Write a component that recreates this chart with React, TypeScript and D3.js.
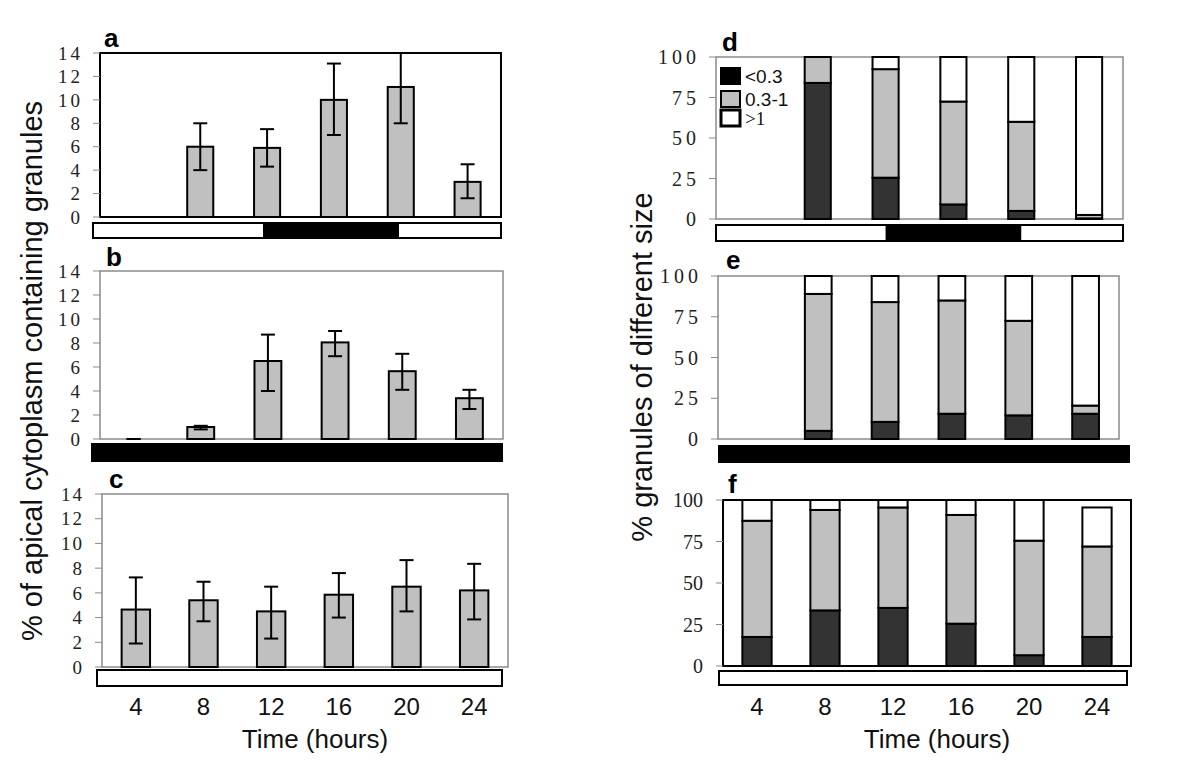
import React from 'react';
import * as d3 from 'd3';

// ---------- data ----------
const hours = ['4', '8', '12', '16', '20', '24'];

// panels a-c: % of apical cytoplasm containing granules (mean, error low, error high)
const meanA = [null, 6.0, 5.9, 10.0, 11.1, 3.0];
const lowA = [null, 4.0, 4.3, 7.0, 8.0, 1.6];
const highA = [null, 8.0, 7.5, 13.1, 15.0, 4.5];

const meanB = [0, 1.0, 6.5, 8.05, 5.65, 3.4];
const lowB = [0, 0.8, 4.0, 6.9, 4.1, 2.5];
const highB = [0, 1.1, 8.7, 9.0, 7.1, 4.1];

const meanC = [4.65, 5.4, 4.5, 5.85, 6.5, 6.2];
const lowC = [1.9, 3.7, 2.3, 4.0, 4.5, 3.85];
const highC = [7.25, 6.9, 6.5, 7.6, 8.65, 8.35];

// panels d-f: % granules of different size (<0.3, 0.3-1, >1)
const smallD = [null, 84, 25.5, 9, 5, 0.4];
const midD = [null, 16, 67, 63.5, 55, 2.1];
const largeD = [null, 0, 7.5, 27.5, 40, 97.5];

const smallE = [null, 5, 10.5, 15.5, 14.5, 15.5];
const midE = [null, 84, 73.5, 69.5, 58, 5];
const largeE = [null, 11, 16, 15, 27.5, 79.5];

const smallF = [17.5, 33.5, 35, 25.5, 6.5, 17.5];
const midF = [70, 60.5, 60.5, 65.5, 69, 54.5];
const largeF = [12.5, 6, 4.5, 9, 24.5, 23.5];

const sizeClasses = ['<0.3', '0.3-1', '>1'];
const percentTicks = [0, 2, 4, 6, 8, 10, 12, 14];
const sizeTicks = [0, 25, 50, 75, 100];

// light/dark regime strip (hours)
const stripHours = [2, 26];
const darkPeriod = [12, 20];

// ---------- styling ----------
const GRAY = '#c0c0c0';
const DARK = '#333333';
const FRAME_GRAY = '#8a8a8a';
const SERIF = "Liberation Serif, Times New Roman, Times, DejaVu Serif, serif";
const SANS = "Liberation Sans, Arial, sans-serif";

type Box = { x0: number; x1: number; y0: number; y1: number };

function Strip({ b, mode }: { b: Box; mode: 'light' | 'dark' | 'ld' }) {
  const s = d3.scaleLinear().domain(stripHours).range([b.x0, b.x1]);
  return (
    <g>
      <rect x={b.x0} y={b.y0} width={b.x1 - b.x0} height={b.y1 - b.y0}
        fill={mode === 'dark' ? '#000' : '#fff'} stroke="#000" strokeWidth={2} />
      {mode === 'ld' && (
        <rect x={s(darkPeriod[0])} y={b.y0} width={s(darkPeriod[1]) - s(darkPeriod[0])}
          height={b.y1 - b.y0} fill="#000" />
      )}
    </g>
  );
}

function YTicks({ b, y, ticks, spacing, size }: any) {
  return (
    <g>
      {ticks.map((t: number) => (
        <g key={t}>
          <line x1={b.x0 - 7} x2={b.x0} y1={y(t)} y2={y(t)} stroke={FRAME_GRAY} strokeWidth={1} />
          <text x={b.x0 - 20 + spacing} y={y(t)} dy="0.35em" textAnchor="end"
            style={{ fontFamily: SERIF, fontSize: size, letterSpacing: spacing }} fill="#222">{t}</text>
        </g>
      ))}
    </g>
  );
}

function BarPanel({ b, mean, low, high, pad, frameColor, frameWidth, spacing }: any) {
  const x = d3.scaleBand().domain(hours).range([b.x0, b.x1]).paddingInner(pad).paddingOuter(pad / 2);
  const y = d3.scaleLinear().domain([0, 14]).range([b.y1, b.y0]).clamp(true);
  const bw = x.bandwidth();
  return (
    <g>
      <rect x={b.x0} y={b.y0} width={b.x1 - b.x0} height={b.y1 - b.y0} fill="#fff"
        stroke={frameColor} strokeWidth={frameWidth} />
      <YTicks b={b} y={y} ticks={percentTicks} spacing={spacing} size={19} />
      {hours.map((h, i) => {
        const m = mean[i];
        if (m === null) return null;
        const cx = (x(h) as number) + bw / 2;
        return (
          <g key={h}>
            {m > 0 && (
              <rect x={x(h)} y={y(m)} width={bw} height={y(0) - y(m)} fill={GRAY}
                stroke="#000" strokeWidth={2} />
            )}
            <line x1={cx} x2={cx} y1={y(low[i])} y2={y(high[i])} stroke="#000" strokeWidth={2} />
            <line x1={cx - 7} x2={cx + 7} y1={y(low[i])} y2={y(low[i])} stroke="#000" strokeWidth={2} />
            {high[i] <= 14 && (
              <line x1={cx - 7} x2={cx + 7} y1={y(high[i])} y2={y(high[i])} stroke="#000" strokeWidth={2} />
            )}
          </g>
        );
      })}
    </g>
  );
}

function StackPanel({ b, small, mid, large, pad, frameColor, frameWidth, spacing, tickSize }: any) {
  const x = d3.scaleBand().domain(hours).range([b.x0, b.x1]).paddingInner(pad).paddingOuter(pad / 2);
  const y = d3.scaleLinear().domain([0, 100]).range([b.y1, b.y0]);
  const rows = hours
    .map((h, i) => ({ h, small: small[i], mid: mid[i], large: large[i] }))
    .filter((r) => r.small !== null);
  const series = d3.stack<any>().keys(['small', 'mid', 'large'])(rows);
  const fills = [DARK, GRAY, '#fff'];
  return (
    <g>
      <rect x={b.x0} y={b.y0} width={b.x1 - b.x0} height={b.y1 - b.y0} fill="#fff"
        stroke={frameColor} strokeWidth={frameWidth} />
      <YTicks b={b} y={y} ticks={sizeTicks} spacing={spacing} size={tickSize} />
      {series.map((s, si) => (
        <g key={si}>
          {s.map((d: any) => (
            d[1] - d[0] > 0 ? (
              <rect key={d.data.h} x={x(d.data.h)} y={y(d[1])} width={x.bandwidth()}
                height={y(d[0]) - y(d[1])} fill={fills[si]} stroke="#000" strokeWidth={2} />
            ) : null
          ))}
        </g>
      ))}
    </g>
  );
}

function XLabels({ b }: { b: Box }) {
  const x = d3.scaleBand().domain(hours).range([b.x0, b.x1]);
  return (
    <g>
      {hours.map((h) => (
        <text key={h} x={(x(h) as number) + x.bandwidth() / 2} y={715} textAnchor="middle"
          style={{ fontFamily: SANS, fontSize: 24 }} fill="#111">{h}</text>
      ))}
      <text x={(b.x0 + b.x1) / 2 + 10} y={748} textAnchor="middle"
        style={{ fontFamily: SANS, fontSize: 26 }} fill="#111">Time (hours)</text>
    </g>
  );
}

function Letter({ x, y, t }: { x: number; y: number; t: string }) {
  return (
    <text x={x} y={y} style={{ fontFamily: SANS, fontWeight: 'bold', fontSize: 26 }} fill="#000">{t}</text>
  );
}

export default function App() {
  const fa: Box = { x0: 100, x1: 501, y0: 53, y1: 217 };
  const fb: Box = { x0: 100, x1: 503, y0: 271, y1: 439 };
  const fc: Box = { x0: 102, x1: 508, y0: 494, y1: 667 };
  const fd: Box = { x0: 716, x1: 1123, y0: 57, y1: 219 };
  const fe: Box = { x0: 718, x1: 1119, y0: 276, y1: 439 };
  const ff: Box = { x0: 723, x1: 1131, y0: 500, y1: 666 };

  const legendFills = ['#000', GRAY, '#fff'];
  const legendY = [68, 91, 110];
  return (
    <svg width={1200} height={770} style={{ position: 'absolute', left: 0, top: 0, background: '#fff' }}>
      <rect width={1200} height={770} fill="#fff" />

      {/* left column */}
      <BarPanel b={fa} mean={meanA} low={lowA} high={highA} pad={0.61} frameColor="#000" frameWidth={2} spacing={3} />
      <Strip b={{ x0: 93, x1: 501, y0: 223, y1: 238 }} mode="ld" />
      <Letter x={104} y={47} t="a" />

      <BarPanel b={fb} mean={meanB} low={lowB} high={highB} pad={0.6} frameColor={FRAME_GRAY} frameWidth={1.5} spacing={3} />
      <Strip b={{ x0: 92, x1: 502, y0: 444, y1: 461 }} mode="dark" />
      <Letter x={106} y={266} t="b" />

      <BarPanel b={fc} mean={meanC} low={lowC} high={highC} pad={0.58} frameColor={FRAME_GRAY} frameWidth={1.5} spacing={2} />
      <Strip b={{ x0: 97, x1: 502, y0: 670, y1: 686 }} mode="light" />
      <Letter x={109} y={488} t="c" />
      <XLabels b={fc} />

      <text transform="translate(42,371) rotate(-90)" textAnchor="middle"
        style={{ fontFamily: SANS, fontSize: 29 }} fill="#111">% of apical cytoplasm containing granules</text>

      {/* right column */}
      <StackPanel b={fd} small={smallD} mid={midD} large={largeD} pad={0.615} frameColor={FRAME_GRAY} frameWidth={1.5} spacing={4} tickSize={20} />
      <Strip b={{ x0: 716, x1: 1123, y0: 225, y1: 241 }} mode="ld" />
      <Letter x={722} y={51} t="d" />
      <g>
        {sizeClasses.map((c, i) => (
          <g key={c}>
            <rect x={721} y={legendY[i]} width={19} height={16} fill={legendFills[i]} stroke="#000"
              strokeWidth={i === 2 ? 3 : 2} />
            <text x={745} y={legendY[i] + 15}
              style={{ fontFamily: i === 2 ? SERIF : SANS, fontSize: 19 }} fill="#111">{c}</text>
          </g>
        ))}
      </g>

      <StackPanel b={fe} small={smallE} mid={midE} large={largeE} pad={0.6} frameColor={FRAME_GRAY} frameWidth={1.5} spacing={4} tickSize={20} />
      <Strip b={{ x0: 719, x1: 1129, y0: 446, y1: 462 }} mode="dark" />
      <Letter x={726} y={269} t="e" />

      <StackPanel b={ff} small={smallF} mid={midF} large={largeF} pad={0.57} frameColor="#000" frameWidth={2} spacing={0} tickSize={20} />
      <Strip b={{ x0: 719, x1: 1127, y0: 671, y1: 685 }} mode="light" />
      <Letter x={728} y={493} t="f" />
      <XLabels b={ff} />

      <text transform="translate(652,367) rotate(-90)" textAnchor="middle"
        style={{ fontFamily: SANS, fontSize: 29 }} fill="#111">% granules of different size</text>
    </svg>
  );
}
